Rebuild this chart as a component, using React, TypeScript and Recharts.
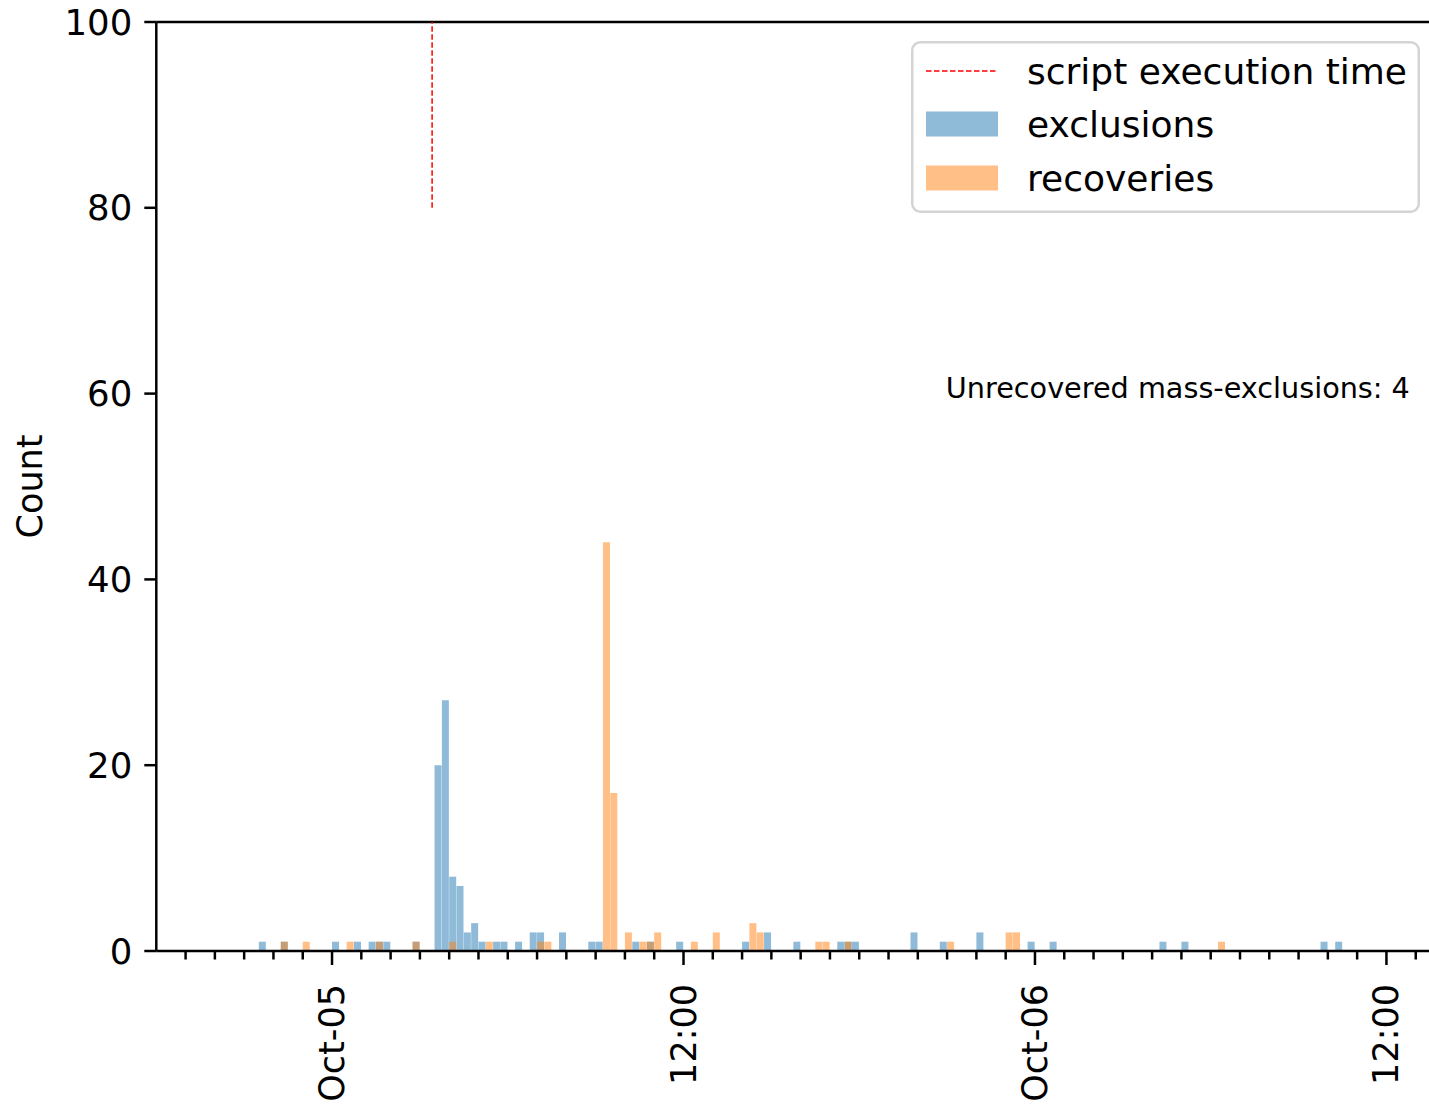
import {
  ComposedChart,
  Bar,
  XAxis,
  YAxis,
  ReferenceLine,
  ReferenceDot,
  Legend,
} from "recharts";

const FONT = "DejaVu Sans, Verdana, sans-serif";

// 15-minute histogram bins, indexed from Oct-05 00:00
const BIN_HOURS = 0.25;
const FIRST_BIN = -24;
const LAST_BIN = 149;

const exclusionBins = [
  -10, -7, 0, 3, 5, 6, 7, 11, 14, 15, 16, 17, 18, 19, 20, 22, 23, 25, 27, 28,
  31, 35, 36, 41, 43, 47, 56, 59, 63, 69, 70, 71, 79, 83, 88, 95, 98, 113, 116,
  135, 137,
];
const exclusionCounts = [
  1, 1, 1, 1, 1, 1, 1, 1, 20, 27, 8, 7, 2, 3, 1, 1, 1, 1, 2, 2, 2, 1, 1, 1, 1,
  1, 1, 2, 1, 1, 1, 1, 2, 1, 2, 1, 1, 1, 1, 1, 1,
];

const recoveryBins = [
  -7, -4, 2, 6, 11, 16, 21, 28, 29, 37, 38, 40, 42, 43, 44, 49, 52, 57, 58, 66,
  67, 70, 84, 92, 93, 121,
];
const recoveryCounts = [
  1, 1, 1, 1, 1, 1, 1, 1, 1, 44, 17, 2, 1, 1, 2, 1, 2, 3, 2, 1, 1, 1, 1, 2, 2,
  1,
];

// script ran at 03:25 on Oct-05
const scriptRunHour = 3 + 25 / 60;
const scriptLineCounts = [80, 100];

const unrecoveredCount = 4;

const xDomain = [-6, 37.6];
const hourTicks = Array.from({ length: 43 }, (_, i) => i - 5);
const majorTickHours = [0, 12, 24, 36];
const majorTickLabels = ["Oct-05", "12:00", "Oct-06", "12:00"];
const yTicks = [0, 20, 40, 60, 80, 100];

const legendItems = [
  { name: "script execution time", kind: "line", color: "#ff0000" },
  { name: "exclusions", kind: "patch", color: "#1f77b4" },
  { name: "recoveries", kind: "patch", color: "#ff7f0e" },
];

const data: { hour: number; exclusions: number; recoveries: number }[] = [];
for (let k = FIRST_BIN; k <= LAST_BIN; k++) {
  const ei = exclusionBins.indexOf(k);
  const ri = recoveryBins.indexOf(k);
  data.push({
    hour: (k + 0.5) * BIN_HOURS,
    exclusions: ei >= 0 ? exclusionCounts[ei] : 0,
    recoveries: ri >= 0 ? recoveryCounts[ri] : 0,
  });
}

function TimeTick({ x, y, payload }: any) {
  const i = majorTickHours.indexOf(payload.value);
  const major = i >= 0;
  const ly = y + 33;
  return (
    <g>
      <line x1={x} y1={y} x2={x} y2={y + (major ? 14 : 8.5)} stroke="#000" strokeWidth={2.5} />
      {major && (
        <text
          x={x}
          y={ly}
          transform={`rotate(-90 ${x} ${ly})`}
          textAnchor="end"
          dominantBaseline="central"
          fontSize={35}
          fontFamily={FONT}
          fill="#000"
        >
          {majorTickLabels[i]}
        </text>
      )}
    </g>
  );
}

function CountTick({ x, y, payload }: any) {
  return (
    <g>
      <line x1={x - 12} y1={y} x2={x} y2={y} stroke="#000" strokeWidth={2.5} />
      <text
        x={x - 24}
        y={y}
        textAnchor="end"
        dominantBaseline="central"
        fontSize={35.5}
        fontFamily={FONT}
        fill="#000"
      >
        {payload.value}
      </text>
    </g>
  );
}

function CountLabel({ viewBox }: any) {
  const cx = viewBox.x + 30;
  const cy = viewBox.y + viewBox.height / 2;
  return (
    <text
      x={cx}
      y={cy}
      transform={`rotate(-90 ${cx} ${cy})`}
      textAnchor="middle"
      dominantBaseline="central"
      fontSize={35}
      fontFamily={FONT}
      fill="#000"
    >
      Count
    </text>
  );
}

function LegendBox() {
  const rowY = [30, 83, 137];
  return (
    <svg width={509} height={172} style={{ display: "block" }}>
      <rect
        x={1.25}
        y={1.25}
        width={506.5}
        height={169.5}
        rx={8}
        fill="#fff"
        fillOpacity={0.8}
        stroke="#d4d4d4"
        strokeWidth={2.5}
      />
      {legendItems.map((item, i) => (
        <g key={item.name}>
          {item.kind === "line" ? (
            <line
              x1={15}
              x2={87}
              y1={rowY[i]}
              y2={rowY[i]}
              stroke={item.color}
              strokeWidth={1.5}
              strokeDasharray="5.5 2.5"
            />
          ) : (
            <rect
              x={15}
              y={rowY[i] - 12.5}
              width={72}
              height={25}
              fill={item.color}
              fillOpacity={0.5}
            />
          )}
          <text
            x={116}
            y={rowY[i]}
            dominantBaseline="central"
            fontSize={36}
            fontFamily={FONT}
            fill="#000"
          >
            {item.name}
          </text>
        </g>
      ))}
    </svg>
  );
}

export default function App() {
  return (
    <div
      style={{
        position: "absolute",
        left: 0,
        top: 0,
        width: 1429,
        height: 1104,
        overflow: "hidden",
        background: "#fff",
      }}
    >
      <ComposedChart
        width={1440}
        height={1104}
        data={data}
        margin={{ top: 22, right: 6.7, bottom: 0, left: 0 }}
        barCategoryGap={0}
        barGap={0}
      >
        <XAxis
          xAxisId="main"
          dataKey="hour"
          type="number"
          domain={xDomain}
          allowDataOverflow
          ticks={hourTicks}
          interval={0}
          tick={<TimeTick />}
          tickLine={false}
          tickSize={0}
          tickMargin={0}
          height={153}
          axisLine={{ stroke: "#000", strokeWidth: 2.5 }}
        />
        <XAxis
          xAxisId="overlay"
          dataKey="hour"
          type="number"
          domain={xDomain}
          allowDataOverflow
          hide
        />
        <YAxis
          type="number"
          domain={[0, 100]}
          ticks={yTicks}
          interval={0}
          width={156.3}
          tick={<CountTick />}
          tickLine={false}
          tickSize={0}
          tickMargin={0}
          axisLine={{ stroke: "#000", strokeWidth: 2.5 }}
          label={(props: any) => <CountLabel {...props} />}
        />
        <Bar
          xAxisId="main"
          dataKey="exclusions"
          name="exclusions"
          fill="#1f77b4"
          fillOpacity={0.5}
          isAnimationActive={false}
        />
        <Bar
          xAxisId="overlay"
          dataKey="recoveries"
          name="recoveries"
          fill="#ff7f0e"
          fillOpacity={0.5}
          isAnimationActive={false}
        />
        {/* top spine */}
        <ReferenceLine xAxisId="main" y={100} stroke="#000" strokeWidth={2.5} />
        <ReferenceLine
          xAxisId="main"
          segment={[
            { x: scriptRunHour, y: scriptLineCounts[0] },
            { x: scriptRunHour, y: scriptLineCounts[1] },
          ]}
          stroke="#ff0000"
          strokeWidth={1.5}
          strokeDasharray="5.5 2.5"
        />
        <ReferenceDot
          xAxisId="main"
          x={36.8}
          y={60.6}
          r={0}
          label={{
            value: `Unrecovered mass-exclusions: ${unrecoveredCount}`,
            position: "left",
            offset: 0,
            fontSize: 28.7,
            fontFamily: FONT,
            fill: "#000",
          }}
        />
        <Legend
          layout="horizontal"
          align="center"
          verticalAlign="middle"
          wrapperStyle={{ left: 911, top: 41, width: 509, height: 172, lineHeight: 0 }}
          content={() => <LegendBox />}
        />
      </ComposedChart>
    </div>
  );
}
